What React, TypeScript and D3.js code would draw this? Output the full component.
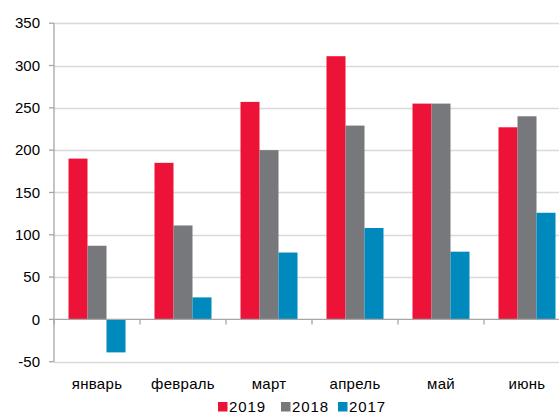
import React from "react";
import * as d3 from "d3";

const categories = ["январь", "февраль", "март", "апрель", "май", "июнь"];
const seriesNames = ["2019", "2018", "2017"];
const values2019 = [190, 185, 257, 311, 255, 227];
const values2018 = [87, 111, 200, 229, 255, 240];
const values2017 = [-39, 26, 79, 108, 80, 126];
const yTicks = [-50, 0, 50, 100, 150, 200, 250, 300, 350];
const colors = ["#ED1237", "#77787C", "#0089BC"];

export default function App() {
  const W = 559, H = 415;
  const left = 54, right = 570;
  const y = d3.scaleLinear().domain([-50, 350]).range([361.7, 23.2]);
  const x = d3.scaleBand<string>().domain(categories).range([left, right]).paddingInner(0).paddingOuter(0);
  const groupW = 57;
  const xi = d3.scaleBand<string>().domain(seriesNames).range([0, groupW]);
  const series = [values2019, values2018, values2017];
  const font = "'Liberation Sans', Arial, sans-serif";
  return (
    <svg width={W} height={H} style={{ position: "absolute", left: 0, top: 0 }} fontFamily={font}>
      <rect width={W} height={H} fill="#fff" />
      {yTicks.filter(t => t !== 0).map(t => (
        <line key={t} x1={left} x2={right} y1={Math.round(y(t)) + 0.5} y2={Math.round(y(t)) + 0.5} stroke="#D9D9D9" strokeWidth={1.3} />
      ))}
      {categories.map((c, ci) => (
        <g key={c}>
          {series.map((s, si) => {
            const v = s[ci];
            const x0 = (x(c) as number) + (x.bandwidth() - groupW) / 2 + (xi(seriesNames[si]) as number);
            return (
              <rect key={si} x={x0} width={xi.bandwidth()} y={Math.min(y(v), y(0))} height={Math.abs(y(v) - y(0))}
                fill={colors[si]} />
            );
          })}
        </g>
      ))}
      <line x1={left} x2={right} y1={y(0)} y2={y(0)} stroke="#A6A6A6" strokeWidth={1.3} />
      {categories.map((c, ci) => (
        <line key={"t" + c} x1={(x(c) as number)} x2={(x(c) as number)} y1={y(0)} y2={y(0) + 5} stroke="#A6A6A6" strokeWidth={1.3} />
      ))}
      <line x1={left} x2={left} y1={y(350)} y2={y(-50)} stroke="#A6A6A6" strokeWidth={1.3} />
      {yTicks.map(t => (
        <g key={"y" + t}>
          <line x1={left - 5} x2={left} y1={y(t)} y2={y(t)} stroke="#A6A6A6" strokeWidth={1.3} />
          <text x={40} y={y(t)} dy="0.35em" textAnchor="end" fontSize={15} fill="#000">{t}</text>
        </g>
      ))}
      {categories.map(c => (
        <text key={"l" + c} x={(x(c) as number) + x.bandwidth() / 2} y={389} textAnchor="middle" fontSize={15} letterSpacing={0.3} fill="#000">{c}</text>
      ))}
      {seriesNames.map((n, i) => {
        const lx = [218, 281, 338][i];
        return (
          <g key={"lg" + n}>
            <rect x={lx} y={402} width={9.5} height={9.5} fill={colors[i]} />
            <text x={lx + 11} y={412} fontSize={15} letterSpacing={0.9} fill="#000">{n}</text>
          </g>
        );
      })}
    </svg>
  );
}
